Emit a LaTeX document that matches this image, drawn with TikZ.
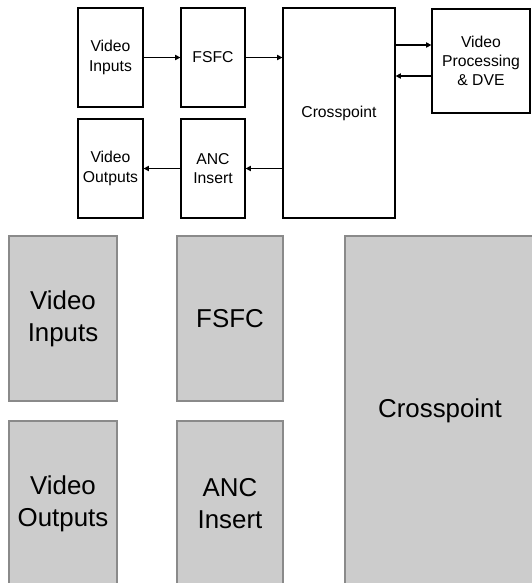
\documentclass[tikz,border=0pt]{standalone}
\usepackage{fontspec}
\setmainfont{Liberation Sans}
\usetikzlibrary{arrows.meta}

\definecolor{boxgray}{HTML}{CCCCCC}
\definecolor{edgegray}{HTML}{8A8A8A}

\tikzset{
    blk/.style = {draw, line width = 0.9pt, inner sep = 0pt, align = center,
        font = \fontsize{11.8}{14.4}\selectfont},
    zblk/.style = {draw = edgegray, fill = boxgray, line width = 2pt, inner sep = 0pt,
        align = center, font = \fontsize{19.4}{23.75}\selectfont},
    arr/.style = {-{Triangle[length = 4pt, width = 4pt]}, line width = 0.8pt},
}

\begin{document}
\begin{tikzpicture}[x = 0.75pt, y = -0.75pt]
            \useasboundingbox (0,0) rectangle (532,583);

            % block diagram
            \node[blk, minimum width = 48.75pt, minimum height = 74.25pt] (vin) at (110.5,57.5) {Video\\Inputs};
            \node[blk, minimum width = 48pt, minimum height = 74.25pt] (fsfc) at (213,57.5) {FSFC};
            \node[blk, minimum width = 48.75pt, minimum height = 74.25pt] (vout) at (110.5,168.5) {Video\\Outputs};
            \node[blk, minimum width = 48pt, minimum height = 74.25pt] (anc) at (213,168.5) {ANC\\Insert};
            \node[blk, minimum width = 84pt, minimum height = 157.5pt] (xpt) at (339,113) {Crosspoint};
            \node[blk, minimum width = 73.5pt, minimum height = 78pt] (vp) at (481,61) {Video\\Processing\\\& DVE};

            \draw[arr] (vin) -- (fsfc);
            \draw[arr] (fsfc.east) -- (fsfc.east -| xpt.west);
            \draw[arr] (anc.east -| xpt.west) -- (anc.east);
            \draw[arr] (anc) -- (vout);
            \draw[arr] ([yshift = 12pt]vp.west -| xpt.east) -- ([yshift = 12pt]vp.west);
            \draw[arr] ([yshift = -11.25pt]vp.west) -- ([yshift = -11.25pt]vp.west -| xpt.east);

            % enlarged view
            \begin{scope}
                \clip (0,225) rectangle (532,583);
                \node[zblk, minimum width = 81pt, minimum height = 123.75pt] (bvin) at (63,318.5) {Video\\Inputs};
                \node[zblk, minimum width = 79.5pt, minimum height = 123.75pt] (bfsfc) at (230,318.5) {FSFC};
                \node[zblk, minimum width = 81pt, minimum height = 123.75pt] (bvout) at (63,503.5) {Video\\Outputs};
                \node[zblk, minimum width = 79.5pt, minimum height = 123.75pt] (banc) at (230,503.5) {ANC\\Insert};
                \node[zblk, minimum width = 142.5pt, minimum height = 262.5pt] (bxpt) at (440,411) {Crosspoint};
            \end{scope}
        \end{tikzpicture}
\end{document}
